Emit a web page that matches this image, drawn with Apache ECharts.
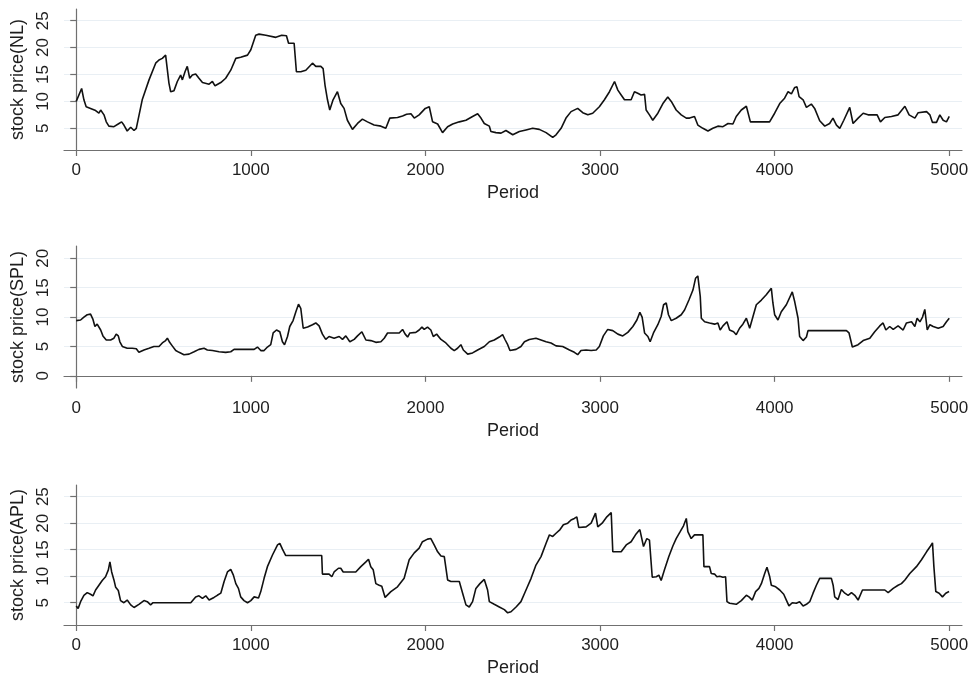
<!DOCTYPE html>
<html>
<head>
<meta charset="utf-8">
<script src="https://cdn.jsdelivr.net/npm/echarts@6/dist/echarts.min.js"></script>
<style>
  html, body { margin: 0; padding: 0; background: #fff; }
  #chart { width: 973px; height: 680px; }
</style>
</head>
<body>
<div id="chart"></div>
<script>
// Period grid ticks shared by all three panels
const periodTicks = [0, 1000, 2000, 3000, 4000, 5000];
const nlTicks = [5, 10, 15, 20, 25];
const splTicks = [0, 5, 10, 15, 20];
const aplTicks = [5, 10, 15, 20, 25];

// NL stock price path
const nlPeriod = [0,31,44,57,82,111,130,140,159,172,187,216,245,260,273,292,312,331,344,378,417,455,474,493,512,522,531,541,560,579,598,608,623,636,650,665,684,703,723,761,780,795,828,856,885,914,942,981,1000,1028,1047,1086,1143,1177,1204,1216,1248,1261,1286,1315,1353,1372,1401,1414,1425,1439,1452,1471,1496,1515,1534,1553,1582,1611,1639,1668,1706,1745,1773,1796,1840,1869,1892,1917,1936,1964,1999,2022,2041,2070,2098,2127,2156,2194,2232,2270,2299,2318,2337,2366,2375,2404,2433,2461,2500,2538,2576,2614,2652,2691,2729,2748,2777,2805,2834,2872,2901,2930,2958,2996,3025,3054,3083,3102,3121,3140,3178,3197,3216,3235,3255,3264,3283,3302,3331,3360,3388,3408,3436,3465,3494,3513,3541,3560,3589,3618,3646,3675,3704,3733,3761,3780,3809,3838,3847,3861,3971,4000,4029,4057,4077,4096,4115,4128,4140,4163,4182,4210,4229,4258,4287,4315,4334,4354,4373,4396,4430,4449,4478,4507,4535,4564,4587,4606,4631,4669,4707,4746,4770,4803,4822,4870,4889,4904,4927,4946,4965,4984,5000];
const nlPrice = [10.0,12.4,10.3,9.0,8.7,8.3,7.8,8.4,7.5,6.2,5.4,5.3,5.9,6.2,5.6,4.5,5.2,4.6,5.0,10.3,14.0,17.1,17.7,18.0,18.6,18.3,13.4,11.8,12.0,13.7,14.9,14.0,15.5,16.5,14.3,14.9,15.1,14.3,13.5,13.2,13.7,12.9,13.5,14.3,15.8,18.0,18.2,18.6,19.6,22.3,22.5,22.3,21.9,22.3,22.2,20.8,20.8,15.5,15.5,15.8,17.1,16.5,16.5,16.1,13.0,10.3,8.4,10.3,11.8,9.6,8.7,6.5,4.8,5.9,6.7,6.2,5.6,5.4,5.0,6.9,7.0,7.3,7.6,7.7,6.9,7.5,8.7,9.0,6.2,5.8,4.2,5.3,5.8,6.2,6.5,7.2,7.7,6.9,5.9,5.4,4.4,4.2,4.1,4.6,3.8,4.4,4.7,5.0,4.8,4.2,3.3,3.8,5.0,6.9,8.1,8.7,7.9,7.5,7.8,9.0,10.3,11.8,13.7,12.1,11.2,10.3,10.3,11.8,11.5,11.2,11.3,8.4,7.5,6.5,7.8,9.6,10.8,10.0,8.4,7.5,6.9,6.9,7.2,5.6,5.0,4.5,5.0,5.4,5.3,5.9,5.8,7.2,8.4,9.1,9.0,6.2,6.2,7.8,9.6,10.6,11.8,11.4,12.6,12.7,10.9,10.3,8.9,9.5,8.7,6.4,5.4,5.9,6.9,5.6,5.0,6.5,8.9,5.9,6.9,7.8,7.5,7.5,7.5,6.2,7.0,7.2,7.5,9.1,7.5,6.9,7.9,8.1,7.5,6.1,6.1,7.5,6.5,6.2,7.2];

// SPL stock price path
const splPeriod = [0,25,44,63,82,96,107,120,140,153,172,197,216,229,241,250,264,292,321,344,359,388,417,445,474,493,512,522,535,550,570,589,617,646,675,703,732,751,780,818,856,885,904,1019,1038,1057,1076,1095,1114,1128,1147,1166,1181,1193,1210,1223,1242,1258,1273,1286,1300,1325,1353,1372,1391,1410,1429,1448,1477,1506,1525,1544,1567,1592,1611,1636,1659,1687,1716,1745,1764,1783,1850,1869,1884,1898,1911,1945,1964,1980,1993,2012,2031,2045,2064,2089,2117,2146,2165,2184,2203,2217,2242,2270,2299,2337,2366,2394,2423,2442,2457,2471,2484,2519,2547,2567,2595,2633,2662,2691,2719,2748,2786,2825,2853,2872,2891,2920,2949,2978,2996,3019,3044,3073,3102,3130,3159,3188,3211,3228,3241,3255,3274,3287,3306,3331,3350,3364,3379,3392,3408,3436,3465,3484,3509,3532,3547,3560,3574,3580,3599,3627,3656,3675,3688,3704,3727,3742,3765,3780,3799,3818,3838,3857,3876,3895,3924,3952,3981,3990,4000,4019,4038,4067,4101,4115,4134,4143,4163,4182,4191,4411,4426,4445,4478,4507,4545,4573,4602,4621,4637,4659,4679,4707,4736,4755,4784,4803,4816,4832,4847,4860,4874,4889,4908,4937,4965,4984,5000];
const splPrice = [9.4,9.5,10.0,10.4,10.5,9.6,8.4,8.8,7.8,6.8,6.1,6.1,6.4,7.1,6.8,5.8,5.0,4.7,4.7,4.6,4.0,4.4,4.7,5.0,5.0,5.6,6.0,6.4,5.7,5.1,4.3,4.0,3.6,3.7,4.1,4.5,4.7,4.4,4.3,4.1,4.0,4.1,4.5,4.5,4.9,4.3,4.3,4.9,5.3,7.3,7.8,7.5,5.8,5.3,6.7,8.4,9.4,10.9,12.2,11.5,8.1,8.3,8.7,9.0,8.5,7.1,6.2,6.7,6.4,6.7,6.2,6.8,5.8,6.2,6.8,7.5,6.1,6.0,5.7,5.8,6.4,7.3,7.3,7.9,7.1,6.6,7.3,7.4,7.8,8.3,7.9,8.3,7.8,6.7,7.1,6.2,5.6,4.7,4.3,4.7,5.3,4.4,3.7,3.9,4.4,5.0,5.8,6.1,6.6,7.0,6.1,5.3,4.3,4.5,5.0,5.8,6.2,6.4,6.1,5.8,5.6,5.1,5.0,4.4,4.0,3.6,4.3,4.4,4.3,4.4,5.0,6.8,7.9,7.7,7.1,6.8,7.4,8.4,9.5,10.8,10.0,7.3,6.7,5.8,7.3,8.7,10.1,12.1,12.4,10.4,9.4,9.8,10.4,11.2,12.9,14.6,16.6,17.0,13.5,9.8,9.2,9.0,8.8,9.0,7.8,8.5,9.2,7.8,7.5,7.0,8.1,8.8,9.8,8.1,10.1,12.1,12.9,13.8,14.9,12.4,10.4,9.5,10.9,12.1,14.3,12.6,9.8,6.7,6.0,6.6,7.7,7.7,7.3,4.9,5.3,6.0,6.4,7.5,8.5,9.0,7.8,8.4,7.9,8.5,7.8,9.0,9.2,8.4,9.8,9.2,10.0,11.3,7.8,8.7,8.4,8.1,8.4,9.2,9.8];

// APL stock price path
const aplPeriod = [0,11,25,44,63,82,96,111,130,149,168,184,193,203,216,226,241,254,273,292,312,331,359,388,407,426,440,656,684,703,723,742,761,789,808,828,847,866,885,900,914,929,942,961,981,1000,1019,1044,1057,1076,1095,1124,1153,1166,1181,1200,1406,1410,1448,1464,1477,1502,1515,1529,1601,1630,1659,1674,1687,1701,1716,1735,1750,1769,1802,1840,1878,1907,1936,1964,1983,2012,2031,2050,2070,2089,2108,2127,2146,2194,2213,2232,2251,2270,2289,2312,2337,2356,2366,2394,2423,2452,2471,2490,2519,2547,2576,2605,2633,2662,2691,2710,2729,2748,2771,2790,2815,2834,2853,2867,2878,2920,2949,2974,2987,3012,3039,3064,3073,3121,3150,3178,3203,3228,3241,3249,3268,3283,3299,3322,3337,3350,3369,3394,3417,3436,3459,3478,3494,3503,3513,3522,3541,3589,3595,3627,3637,3656,3669,3685,3704,3719,3727,3742,3780,3809,3838,3853,3872,3891,3910,3924,3943,3956,3971,3981,4006,4029,4052,4067,4082,4101,4124,4143,4163,4182,4201,4220,4239,4258,4325,4335,4344,4363,4382,4402,4421,4440,4459,4478,4503,4631,4650,4679,4707,4726,4746,4774,4812,4841,4870,4893,4904,4912,4923,4942,4961,4980,4999];
const aplPrice = [4.4,3.9,5.2,6.4,6.9,6.6,6.3,7.4,8.3,9.2,9.9,11.2,12.7,10.8,9.3,7.9,7.3,5.4,5.0,5.5,4.6,4.1,4.7,5.4,5.2,4.6,5.0,5.0,6.1,6.3,5.8,6.3,5.5,6.0,6.4,6.8,9.0,10.8,11.3,10.2,8.6,7.7,6.1,5.4,5.0,5.4,6.1,5.9,7.1,9.6,11.8,14.0,15.9,16.2,15.1,13.9,13.9,10.4,10.4,9.9,10.8,11.5,11.5,10.8,10.8,11.8,12.7,13.2,11.8,11.2,8.6,8.3,8.1,6.0,7.1,8.0,9.6,13.1,14.4,15.3,16.5,17.0,17.1,15.9,14.6,13.8,13.7,9.3,9.0,9.0,6.8,4.6,4.2,5.2,7.7,8.6,9.4,7.4,5.2,4.7,4.2,3.7,3.1,3.3,4.2,5.2,7.4,9.6,12.1,13.7,16.2,17.8,17.5,18.1,18.8,19.7,20.0,20.6,20.9,21.2,19.2,19.3,20.0,21.9,19.3,20.0,21.2,22.0,14.6,14.6,15.9,16.5,17.8,18.8,16.8,15.6,17.1,16.8,9.8,9.9,10.2,9.2,11.2,13.7,15.7,17.1,18.4,19.5,20.9,18.4,18.4,17.1,17.8,17.8,11.8,11.8,10.5,10.4,9.9,10.0,9.8,9.9,5.2,4.9,4.7,5.4,6.4,6.1,5.5,7.1,7.7,8.6,10.5,11.7,10.0,8.3,8.0,7.4,6.6,5.5,4.4,5.0,4.9,5.2,4.4,4.7,5.2,6.8,8.3,9.6,9.6,8.3,6.1,5.6,7.5,6.8,6.4,6.9,6.4,5.5,7.4,7.4,6.9,7.7,8.3,8.6,9.3,10.5,11.8,13.1,14.6,15.7,16.3,11.8,7.1,6.8,6.1,6.8,7.1];

const FONT = '"Liberation Sans", Helvetica, Arial, sans-serif';
const TEXT = '#1e1e1e';
const AXIS = '#707070';
const GRIDLINE = '#e9eff4';

const panels = [
  { name: 'stock price(NL)',  period: nlPeriod,  price: nlPrice,  ticks: nlTicks,  min: 0.97, max: 27.17, top: 9,   height: 141 },
  { name: 'stock price(SPL)', period: splPeriod, price: splPrice, ticks: splTicks, min: -2.07, max: 22.1, top: 246, height: 142 },
  { name: 'stock price(APL)', period: aplPeriod, price: aplPrice, ticks: aplTicks, min: 0.8,  max: 27.2,  top: 485, height: 140 }
];

const zip = (xs, ys) => xs.map((x, i) => [x, ys[i]]);
const plain = v => String(v);

const option = {
  animation: false,
  backgroundColor: '#ffffff',
  textStyle: { fontFamily: FONT, color: TEXT },
  grid: panels.map(p => ({ left: 64, right: 11, top: p.top, height: p.height, containLabel: false })),
  xAxis: panels.map((p, i) => ({
    type: 'value',
    gridIndex: i,
    min: -70,
    max: 5073,
    name: 'Period',
    nameLocation: 'middle',
    nameGap: 34,
    nameTextStyle: { fontFamily: FONT, fontSize: 18, color: TEXT },
    axisLine: { show: true, lineStyle: { color: AXIS, width: 1.2 } },
    axisTick: { show: true, length: 6, customValues: periodTicks, lineStyle: { color: AXIS, width: 1.2 } },
    axisLabel: { customValues: periodTicks, formatter: plain, margin: 12, fontFamily: FONT, fontSize: 17, color: TEXT },
    splitLine: { show: false }
  })),
  yAxis: panels.map((p, i) => ({
    type: 'value',
    gridIndex: i,
    min: p.min,
    max: p.max,
    name: p.name,
    nameLocation: 'middle',
    nameRotate: 90,
    nameGap: 28,
    nameTextStyle: { fontFamily: FONT, fontSize: 18, color: TEXT },
    axisLine: { show: true, lineStyle: { color: AXIS, width: 1.2 } },
    axisTick: { show: true, length: 6, customValues: p.ticks, lineStyle: { color: AXIS, width: 1.2 } },
    axisLabel: { customValues: p.ticks, formatter: plain, rotate: 90, margin: 12, fontFamily: FONT, fontSize: 17, color: TEXT },
    splitLine: { show: true, lineStyle: { color: GRIDLINE, width: 1.2 } }
  })),
  series: panels.map((p, i) => ({
    type: 'line',
    xAxisIndex: i,
    yAxisIndex: i,
    data: zip(p.period, p.price),
    showSymbol: false,
    symbol: 'none',
    lineStyle: { color: '#111111', width: 1.6 },
    z: 3
  }))
};

const chart = echarts.init(document.getElementById('chart'), null, { renderer: 'canvas' });
chart.setOption(option);
</script>
</body>
</html>
